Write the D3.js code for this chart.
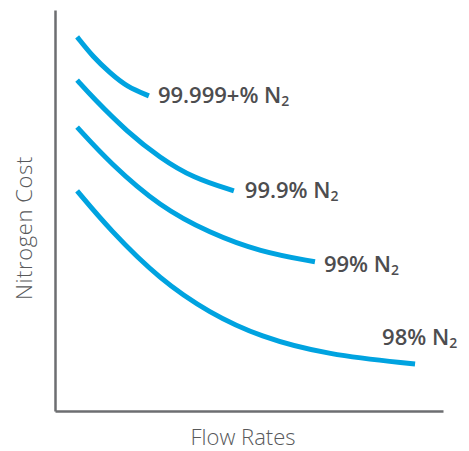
<!DOCTYPE html>
<html lang="en">
<head>
    <meta charset="UTF-8" />
    <script src="https://d3js.org/d3.v7.min.js"></script>
    <title>Nitrogen Cost vs Flow Rates</title>
    <style>
        body { margin: 0; background: #fff; }
    </style>
</head>
<body>
    <div id="my_chart"></div>
<script>
    // Purity labels and curve values (0-100 relative units)
    var purities = ["99.999+%", "99.9%", "99%", "98%"];

    var flow1 = [5.7, 9.8, 14.2, 18.6, 24.2];
    var cost1 = [93.3, 88.3, 84.3, 80.8, 78.6];

    var flow2 = [5.7, 9.8, 18.6, 27.1, 35.6, 46.1];
    var cost2 = [82.5, 78.1, 69.6, 63.1, 58.1, 54.9];

    var flow3 = [5.7, 14.2, 27.1, 39.9, 52.8, 67.0];
    var cost3 = [70.8, 61.8, 50.9, 44.4, 39.7, 37.2];

    var flow4 = [5.7, 14.2, 27.1, 39.9, 52.8, 70.1, 92.8];
    var cost4 = [54.9, 45.1, 32.7, 24.4, 18.5, 14.0, 11.7];

    var series = [
        { name: purities[0], flow: flow1, cost: cost1 },
        { name: purities[1], flow: flow2, cost: cost2 },
        { name: purities[2], flow: flow3, cost: cost3 },
        { name: purities[3], flow: flow4, cost: cost4 }
    ];

    // label offset from the end of each curve (pixels)
    var labelOffsets = [[9, 7], [11, 7], [9, 10], [-33, -19]];

    var width = 469, height = 451;
    var margin = { top: 10, right: 26, bottom: 40, left: 55 };

    var svg = d3.select("#my_chart")
        .append("svg")
        .attr("width", width)
        .attr("height", height);

    var x = d3.scaleLinear().domain([0, 100]).range([margin.left, width - margin.right]);
    var y = d3.scaleLinear().domain([0, 100]).range([height - margin.bottom, margin.top]);

    // axes, no ticks
    svg.append("g")
        .attr("transform", `translate(0, ${y(0)})`)
        .call(d3.axisBottom(x).ticks(0).tickSize(0))
        .call(g => g.select(".domain").attr("stroke", "#6d6e71").attr("stroke-width", 2.5));

    svg.append("g")
        .attr("transform", `translate(${x(0)}, 0)`)
        .call(d3.axisLeft(y).ticks(0).tickSize(0))
        .call(g => g.select(".domain").attr("stroke", "#6d6e71").attr("stroke-width", 2.5));

    var line = d3.line()
        .x(d => x(d[0]))
        .y(d => y(d[1]))
        .curve(d3.curveBasis);

    series.forEach((s, i) => {
        var pts = s.flow.map((f, j) => [f, s.cost[j]]);
        svg.append("path")
            .datum(pts)
            .attr("d", line)
            .attr("fill", "none")
            .attr("stroke", "#00a3e0")
            .attr("stroke-width", 5);

        var last = pts[pts.length - 1];
        var t = svg.append("text")
            .attr("x", x(last[0]) + labelOffsets[i][0])
            .attr("y", y(last[1]) + labelOffsets[i][1])
            .attr("font-family", "'Open Sans', sans-serif")
            .attr("font-weight", 600)
            .attr("font-size", 22)
            .attr("fill", "#4d4d4f");
        t.append("tspan").text(s.name + " N");
        t.append("tspan").attr("font-size", 14).attr("dy", 3).text("2");
    });

    // axis titles
    svg.append("text")
        .attr("x", 243)
        .attr("y", 445)
        .attr("text-anchor", "middle")
        .attr("font-family", "'Open Sans', sans-serif")
        .attr("font-weight", 300)
        .attr("font-size", 22)
        .attr("fill", "#58595b")
        .text("Flow Rates");

    svg.append("text")
        .attr("transform", "translate(32, 228) rotate(-90)")
        .attr("text-anchor", "middle")
        .attr("font-family", "'Open Sans', sans-serif")
        .attr("font-weight", 300)
        .attr("font-size", 22)
        .attr("letter-spacing", 0.6)
        .attr("fill", "#58595b")
        .text("Nitrogen Cost");
</script>
</body>
</html>
